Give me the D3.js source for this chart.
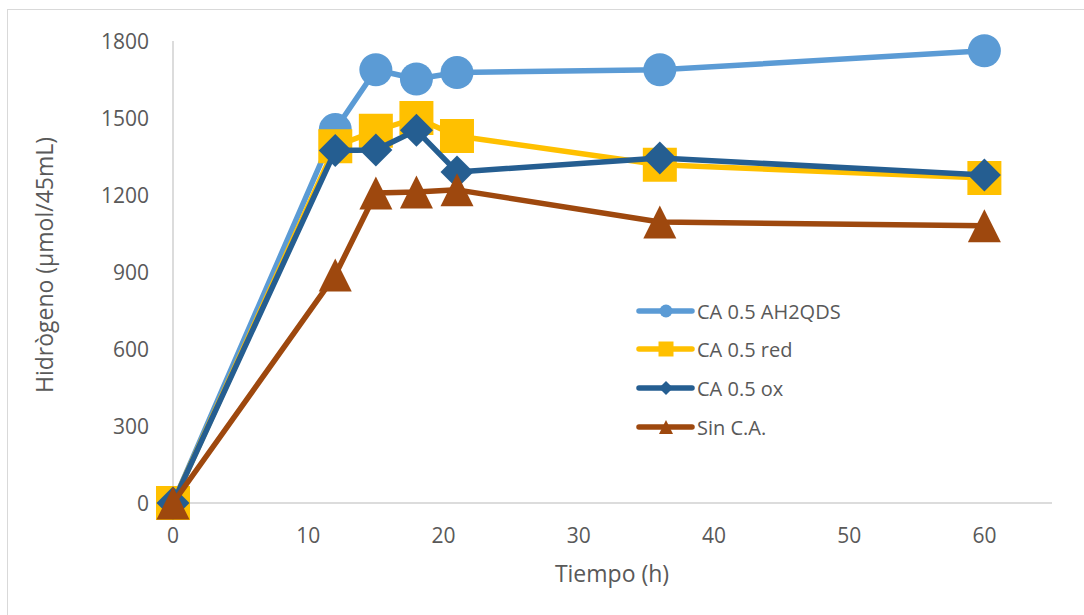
<!DOCTYPE html>
<html>
<head>
<meta charset="utf-8">
<script src="https://cdn.jsdelivr.net/npm/d3@7"></script>
<style>
  body { margin: 0; background: #fff; }
  svg { display: block; font-family: "Open Sans", sans-serif; }
</style>
</head>
<body>
<svg id="chart" width="1084" height="615"></svg>
<script>
// data
const hours = [0, 12, 15, 18, 21, 36, 60];
const seriesNames = ["CA 0.5 AH2QDS", "CA 0.5 red", "CA 0.5 ox", "Sin C.A."];
const ah2qds = [0, 1455, 1688, 1652, 1677, 1688, 1762];
const caRed = [0, 1390, 1450, 1500, 1430, 1318, 1266];
const caOx = [0, 1373, 1375, 1452, 1290, 1344, 1278];
const sinCA = [0, 888, 1208, 1212, 1220, 1095, 1080];
const xTicks = [0, 10, 20, 30, 40, 50, 60];
const yTicks = [0, 300, 600, 900, 1200, 1500, 1800];

const colors = ["#5B9BD5", "#FFC000", "#255E91", "#9E480E"];

// marker path generators, r = half width
function marker(kind, r) {
  if (kind === 0) return d3.symbol().type(d3.symbolCircle).size(Math.PI * r * r)();
  if (kind === 1) return "M" + (-r) + "," + (-r) + "H" + r + "V" + r + "H" + (-r) + "Z";
  if (kind === 2) return "M0," + (-r) + "L" + r + ",0L0," + r + "L" + (-r) + ",0Z";
  return "M0," + (-r) + "L" + r + "," + r + "H" + (-r) + "Z";
}
const markR = [16.5, 17, 16.5, 16.5];
const legendR = [6.5, 7.5, 7, 7];

let svg = d3.select("#chart");
let textColor = "#595959";

// outer chart border
svg.append("rect")
  .attr("x", 7.5).attr("y", 9.5)
  .attr("width", 1090).attr("height", 620)
  .attr("fill", "none")
  .attr("stroke", "#d9d9d9");

let x = d3.scaleLinear().domain([0, 65]).range([173, 1052]);
let y = d3.scaleLinear().domain([0, 1800]).range([503, 41]);

// axes lines
svg.append("line")
  .attr("x1", x(0)).attr("x2", x(65))
  .attr("y1", y(0)).attr("y2", y(0))
  .style("stroke", "#d0d0d0").style("stroke-width", 1.5);
svg.append("line")
  .attr("x1", x(0)).attr("x2", x(0))
  .attr("y1", y(0)).attr("y2", y(1800))
  .style("stroke", "#d0d0d0").style("stroke-width", 1.5);

// tick labels
svg.selectAll(".xtick").data(xTicks).enter().append("text")
  .attr("class", "xtick")
  .attr("x", d => x(d))
  .attr("y", 543)
  .attr("text-anchor", "middle")
  .style("font-size", "21px")
  .style("fill", textColor)
  .text(d => d);

svg.selectAll(".ytick").data(yTicks).enter().append("text")
  .attr("class", "ytick")
  .attr("x", 149)
  .attr("y", d => y(d) + 8)
  .attr("text-anchor", "end")
  .style("font-size", "21px")
  .style("fill", textColor)
  .text(d => d);

// axis titles
svg.append("text")
  .attr("x", 612).attr("y", 582)
  .attr("text-anchor", "middle")
  .style("font-size", "23px")
  .style("fill", textColor)
  .text("Tiempo (h)");
svg.append("text")
  .attr("transform", "translate(53,265) rotate(-90)")
  .attr("text-anchor", "middle")
  .style("font-size", "23px")
  .style("fill", textColor)
  .text("Hidrògeno (µmol/45mL)");

let allSeries = [ah2qds, caRed, caOx, sinCA];
let line = d3.line()
  .x((d, i) => x(hours[i]))
  .y(d => y(d));

// draw each series: line then markers
allSeries.forEach(function(vals, s) {
  svg.append("path")
    .datum(vals)
    .attr("d", line)
    .attr("fill", "none")
    .attr("stroke", colors[s])
    .attr("stroke-width", 5.5)
    .attr("stroke-linejoin", "round");

  svg.selectAll(".mark" + s).data(vals).enter().append("path")
    .attr("class", "mark" + s)
    .attr("d", marker(s, markR[s]))
    .attr("transform", (d, i) => "translate(" + x(hours[i]) + "," + y(d) + ")")
    .attr("fill", colors[s]);
});

// legend
let legendY = [311, 349, 388, 427];
seriesNames.forEach(function(name, s) {
  svg.append("line")
    .attr("x1", 639).attr("x2", 692)
    .attr("y1", legendY[s]).attr("y2", legendY[s])
    .attr("stroke", colors[s])
    .attr("stroke-width", 5.5)
    .attr("stroke-linecap", "round");
  svg.append("path")
    .attr("d", marker(s, legendR[s]))
    .attr("transform", "translate(666," + legendY[s] + ")")
    .attr("fill", colors[s]);
  svg.append("text")
    .attr("x", 697)
    .attr("y", legendY[s] + 7.5)
    .style("font-size", "20px")
    .style("fill", textColor)
    .text(name);
});
</script>
</body>
</html>
